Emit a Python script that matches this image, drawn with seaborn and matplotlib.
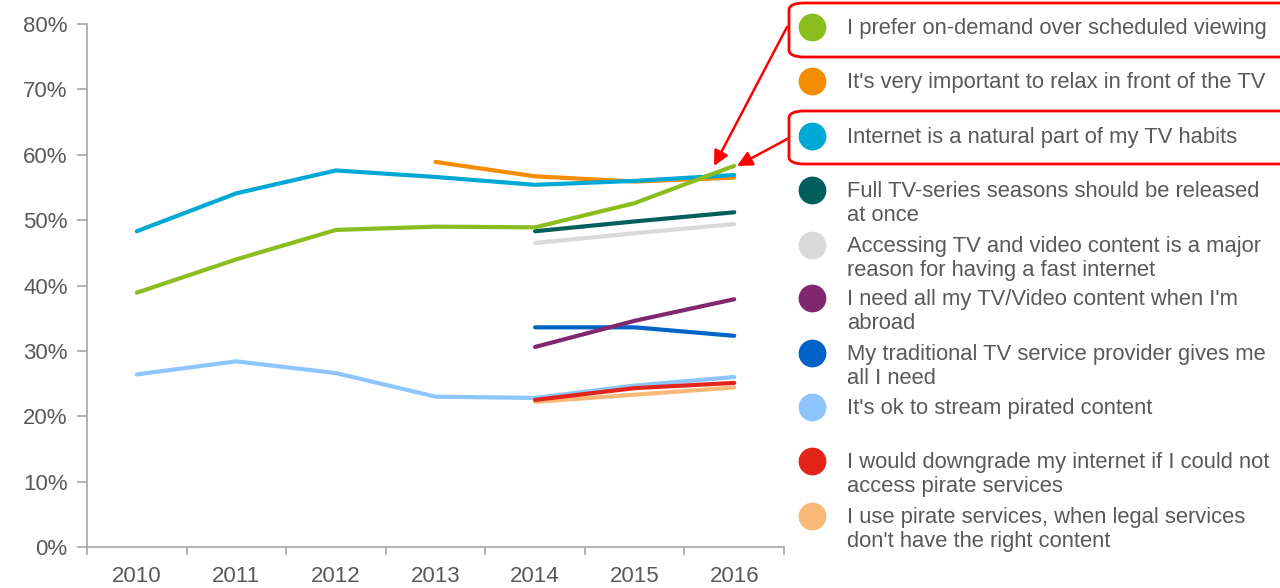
import pandas as pd
import numpy as np
import seaborn as sns
import matplotlib.pyplot as plt
from matplotlib.patches import FancyBboxPatch, FancyArrowPatch
from matplotlib.lines import Line2D
from matplotlib.ticker import FixedLocator, FuncFormatter

# statements (legend order) and colours
statements = [
    "I prefer on-demand over scheduled viewing",
    "It's very important to relax in front of the TV",
    "Internet is a natural part of my TV habits",
    "Full TV-series seasons should be released\nat once",
    "Accessing TV and video content is a major\nreason for having a fast internet",
    "I need all my TV/Video content when I'm\nabroad",
    "My traditional TV service provider gives me\nall I need",
    "It's ok to stream pirated content",
    "I would downgrade my internet if I could not\naccess pirate services",
    "I use pirate services, when legal services\ndon't have the right content",
]
colors = ["#8cbd1f", "#f28c00", "#00a8d6", "#005f5c", "#d9d9d9",
          "#80276f", "#0063c7", "#8ec5fc", "#e2241a", "#f9b878"]

years_all = [2010, 2011, 2012, 2013, 2014, 2015, 2016]
years_late = [2014, 2015, 2016]

on_demand = [38.9, 44.0, 48.5, 49.0, 48.9, 52.6, 58.3]
relax = [58.9, 56.7, 55.9, 56.5]
internet_tv = [48.3, 54.1, 57.6, 56.6, 55.4, 56.0, 56.9]
full_seasons = [48.3, 49.8, 51.2]
fast_internet = [46.5, 48.0, 49.4]
abroad = [30.6, 34.6, 37.9]
traditional = [33.6, 33.6, 32.3]
stream_pirated = [26.4, 28.4, 26.6, 23.0, 22.8, 24.7, 26.0]
downgrade = [22.5, 24.3, 25.1]
pirate_services = [22.2, 23.3, 24.4]

series = [
    (years_all, on_demand),
    ([2013] + years_late, relax),
    (years_all, internet_tv),
    (years_late, full_seasons),
    (years_late, fast_internet),
    (years_late, abroad),
    (years_late, traditional),
    (years_all, stream_pirated),
    (years_late, downgrade),
    (years_late, pirate_services),
]

rows = []
for name, (yrs, vals) in zip(statements, series):
    for y, v in zip(yrs, vals):
        rows.append({"statement": name, "year": y, "value": v})
df = pd.DataFrame(rows)

sns.set_style("white")
plt.rcParams['font.family'] = ['Liberation Sans', 'DejaVu Sans']
text_col = "#595959"
fs = 16

fig = plt.figure(figsize=(12.8, 5.88), dpi=100)
ax = fig.add_axes([87 / 1280, 41 / 588, 697 / 1280, 523 / 588])

# draw back to front so top legend entries sit on top
order = [7, 9, 8, 6, 5, 4, 3, 1, 2, 0]
for i in order:
    sub = df[df["statement"] == statements[i]]
    sns.lineplot(data=sub, x="year", y="value", color=colors[i],
                 linewidth=3, ax=ax, legend=False, solid_capstyle="round")

ax.set_xlim(2009.5, 2016.5)
ax.set_ylim(0, 80)
ax.set_xlabel("")
ax.set_ylabel("")

ax.xaxis.set_major_locator(FixedLocator(np.arange(2009.5, 2017, 1)))
ax.xaxis.set_minor_locator(FixedLocator(years_all))
ax.set_xticklabels([], minor=False)
ax.set_xticklabels([str(y) for y in years_all], minor=True)
ax.tick_params(axis="x", which="major", direction="out", length=6,
               color="#a6a6a6", width=1.2, bottom=True)
ax.tick_params(axis="x", which="minor", length=0, pad=14,
               labelsize=fs, labelcolor=text_col)

ax.set_yticks(np.arange(0, 81, 10))
ax.yaxis.set_major_formatter(FuncFormatter(lambda v, p: f"{v:.0f}%"))
ax.tick_params(axis="y", direction="out", length=7, color="#a6a6a6",
               width=1.2, left=True, labelsize=fs, labelcolor=text_col, pad=7)

for side in ["top", "right"]:
    ax.spines[side].set_visible(False)
for side in ["left", "bottom"]:
    ax.spines[side].set_color("#a6a6a6")
    ax.spines[side].set_linewidth(1.2)

# legend on the right
W, H = 1280, 588
legend_y = [27, 81, 136, 190, 245, 298, 353, 407, 461, 516]
for name, col, yy in zip(statements, colors, legend_y):
    fy = 1 - yy / H
    fig.add_artist(Line2D([812 / W], [fy], marker="o", markersize=19,
                          color=col, linestyle="none",
                          transform=fig.transFigure))
    fig.text(847 / W, fy + 9 / H, name, fontsize=15.8, color=text_col,
             va="top", ha="left", linespacing=1.21)

# red highlight boxes
for y0, y1 in [(3, 57), (111, 164)]:
    fig.add_artist(FancyBboxPatch((789 / W, 1 - y1 / H), 520 / W, (y1 - y0) / H,
                                  boxstyle="round,pad=0,rounding_size=0.012",
                                  transform=fig.transFigure, fill=False,
                                  edgecolor="#ff0000", linewidth=2))

# red arrows
for (x0, y0), (x1, y1) in [((787, 27), (714, 166)), ((789, 138), (737, 166))]:
    fig.add_artist(FancyArrowPatch((x0 / W, 1 - y0 / H), (x1 / W, 1 - y1 / H),
                                   transform=fig.transFigure,
                                   arrowstyle="-|>,head_length=9,head_width=4.5",
                                   color="#ff0000", linewidth=1.8,
                                   shrinkA=0, shrinkB=0))

fig.savefig("out.png", dpi=100)
